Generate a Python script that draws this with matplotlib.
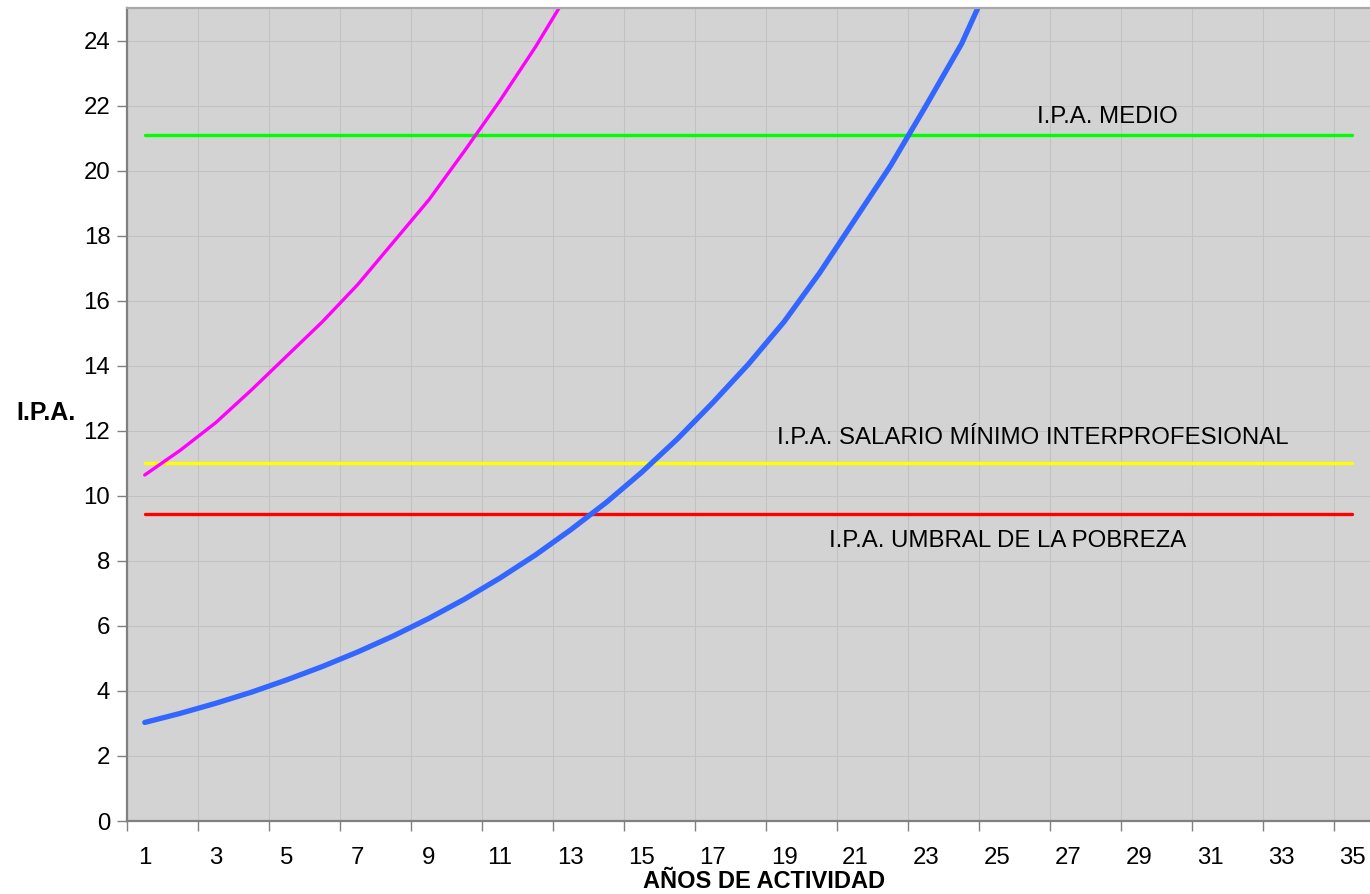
import matplotlib
matplotlib.use("Agg")
import matplotlib.pyplot as plt
from matplotlib.ticker import FixedLocator

plt.rcParams['font.family'] = ['Liberation Sans', 'DejaVu Sans']

# ---- data ----
years = list(range(1, 36))
x_labels = [str(v) for v in range(1, 36, 2)]

ipa_medio = 21.1
ipa_smi = 11.0
ipa_umbral = 9.43

magenta_years = list(range(1, 14))
magenta_vals = [10.64, 11.4, 12.25, 13.25, 14.3, 15.35, 16.5, 17.8, 19.1, 20.6,
                22.15, 23.8, 25.6]

blue_years = list(range(1, 26))
blue_vals = [3.03, 3.31, 3.62, 3.96, 4.34, 4.75, 5.20, 5.69, 6.23, 6.82,
             7.47, 8.18, 8.96, 9.80, 10.73, 11.75, 12.87, 14.05, 15.35, 16.85,
             18.5, 20.15, 22.0, 23.9, 26.3]

label_medio = "I.P.A. MEDIO"
label_smi = "I.P.A. SALARIO MÍNIMO INTERPROFESIONAL"
label_umbral = "I.P.A. UMBRAL DE LA POBREZA"

# ---- figure ----
fig = plt.figure(figsize=(13.7, 8.94), dpi=100)
ax = fig.add_axes([127/1370, 1-821/894, 1-127/1370, (821-8)/894])
ax.set_facecolor('#D3D3D3')

ax.set_xlim(0.5, 35.5)
ax.set_ylim(0, 25)

# grid
ax.xaxis.set_major_locator(FixedLocator(list(range(1, 36, 2))))
ax.set_xticklabels(x_labels)
ax.xaxis.set_minor_locator(FixedLocator([v + 0.5 for v in range(0, 35, 2)]))
ax.yaxis.set_major_locator(FixedLocator(list(range(0, 25, 2))))
ax.grid(True, which='minor', axis='x', color='#C2C2C2', linewidth=0.8)
ax.grid(True, which='major', axis='y', color='#C2C2C2', linewidth=0.8)
ax.grid(False, which='major', axis='x')
ax.set_axisbelow(True)

ax.tick_params(axis='x', which='major', length=0, pad=19, labelsize=17.3)
ax.tick_params(axis='x', which='minor', length=7, width=1, color='#808080', direction='out')
ax.tick_params(axis='y', which='major', length=7, width=1, color='#808080',
               direction='out', pad=5, labelsize=17.3)

for s in ['left', 'bottom']:
    ax.spines[s].set_color('#808080')
    ax.spines[s].set_linewidth(1.6)
ax.spines['top'].set_color('#A8A8A8')
ax.spines['top'].set_linewidth(1.6)
ax.spines['right'].set_visible(False)

# lines
ax.plot(years, [ipa_medio] * len(years), color='#00FF00', lw=2.4, solid_capstyle='round')
ax.plot(years, [ipa_smi] * len(years), color='#FFFF00', lw=2.4, solid_capstyle='round')
ax.plot(years, [ipa_umbral] * len(years), color='#FF0000', lw=2.4, solid_capstyle='round')
ax.plot(magenta_years, magenta_vals, color='#FF00FF', lw=2.4, solid_capstyle='round')
ax.plot(blue_years, blue_vals, color='#3366FF', lw=3.8, solid_capstyle='round')

# annotations
ax.text(28.1, 21.65, label_medio, fontsize=17.3, ha='center', va='center', color='black')
ax.text(26.0, 11.78, label_smi, fontsize=17.3, ha='center', va='center', color='black')
ax.text(25.3, 8.62, label_umbral, fontsize=17.3, ha='center', va='center', color='black')

fig.text(46/1370, 1-413/894, "I.P.A.", fontsize=18, fontweight='bold', ha='center', va='center')
fig.text(764/1370, 1-881/894, "AÑOS DE ACTIVIDAD", fontsize=17, fontweight='bold', ha='center', va='center')

fig.savefig("out.png", dpi=100)
